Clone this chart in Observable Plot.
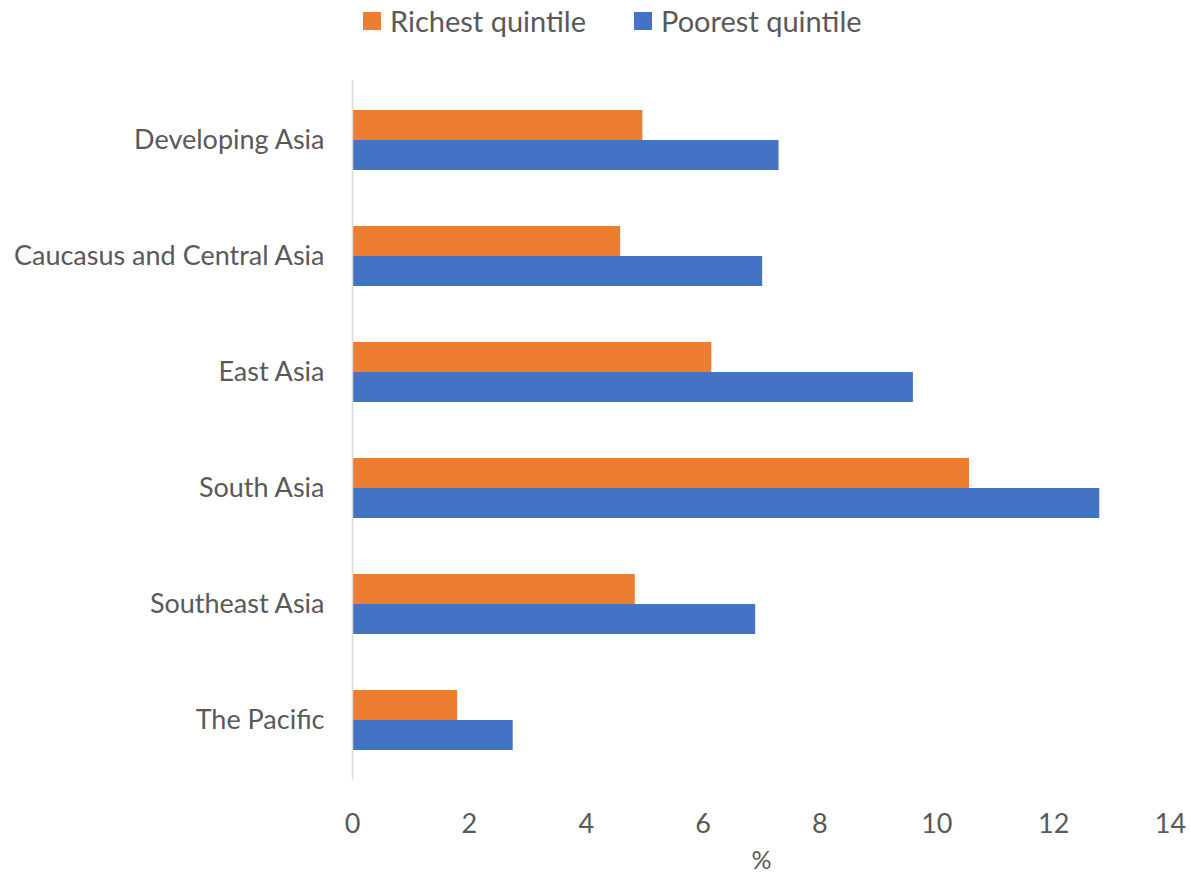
<!DOCTYPE html>
<html>
<head>
<meta charset="utf-8">
<script src="https://cdn.jsdelivr.net/npm/d3@7"></script>
<script src="https://cdn.jsdelivr.net/npm/@observablehq/plot@0.6"></script>
<style>
  body { margin: 0; background: #fff; font-family: Lato, "Open Sans", sans-serif; }
  #wrap { position: relative; width: 1191px; height: 877px; }
  #legend { position: absolute; top: 3px; left: 363px; display: flex; align-items: center; font-size: 29px; color: #595959; }
  #legend .sw { width: 18px; height: 18px; display: inline-block; margin-right: 9px; }
  #legend .item { display: flex; align-items: center; margin-right: 48px; }
</style>
</head>
<body>
<div id="wrap">
  <div id="legend"></div>
  <div id="chart"></div>
</div>
<script>
const regions = ["Developing Asia", "Caucasus and Central Asia", "East Asia", "South Asia", "Southeast Asia", "The Pacific"];
const richest = [4.97, 4.59, 6.15, 10.56, 4.84, 1.80];
const poorest = [7.30, 7.02, 9.60, 12.79, 6.90, 2.75];
const seriesNames = ["Richest quintile", "Poorest quintile"];
const seriesColors = ["#ED7D31", "#4472C4"];
const xTicks = [0, 2, 4, 6, 8, 10, 12, 14];

const rowsR = regions.map((r, i) => ({region: r, value: richest[i], series: seriesNames[0]}));
const rowsP = regions.map((r, i) => ({region: r, value: poorest[i], series: seriesNames[1]}));

const legend = document.getElementById("legend");
seriesNames.forEach((s, i) => {
  const it = document.createElement("div");
  it.className = "item";
  it.innerHTML = `<span class="sw" style="background:${seriesColors[i]}"></span><span>${s}</span>`;
  legend.appendChild(it);
});

const chart = Plot.plot({
  width: 1191,
  height: 877,
  marginLeft: 352,
  marginRight: 21,
  marginTop: 80,
  marginBottom: 97,
  style: {fontFamily: "Lato, 'Open Sans', sans-serif", fontSize: "27px", color: "#595959", background: "#fff"},
  x: {domain: [0, 14], ticks: xTicks, label: "%", labelAnchor: "center"},
  y: {domain: regions, paddingInner: 0.485, paddingOuter: 0.2425, label: null},
  color: {domain: seriesNames, range: seriesColors},
  marks: [
    Plot.barX(rowsR, {x: "value", y: "region", fill: "series", insetBottom: 30}),
    Plot.barX(rowsP, {x: "value", y: "region", fill: "series", insetTop: 30}),
    Plot.ruleX([0], {stroke: "#d9d9d9", strokeWidth: 1.5}),
    Plot.axisX({ticks: xTicks, tickSize: 0, tickPadding: 33, fontSize: 27, label: null, fill: "#595959"}),
    Plot.axisX({ticks: [], tickSize: 0, fontSize: 25, label: "%", labelArrow: "none", labelAnchor: "center", labelOffset: 88, fill: "#595959"}),
    Plot.axisY({tickSize: 0, tickPadding: 28, fontSize: 27, label: null, fill: "#595959"})
  ]
});
document.getElementById("chart").appendChild(chart);
</script>
</body>
</html>
